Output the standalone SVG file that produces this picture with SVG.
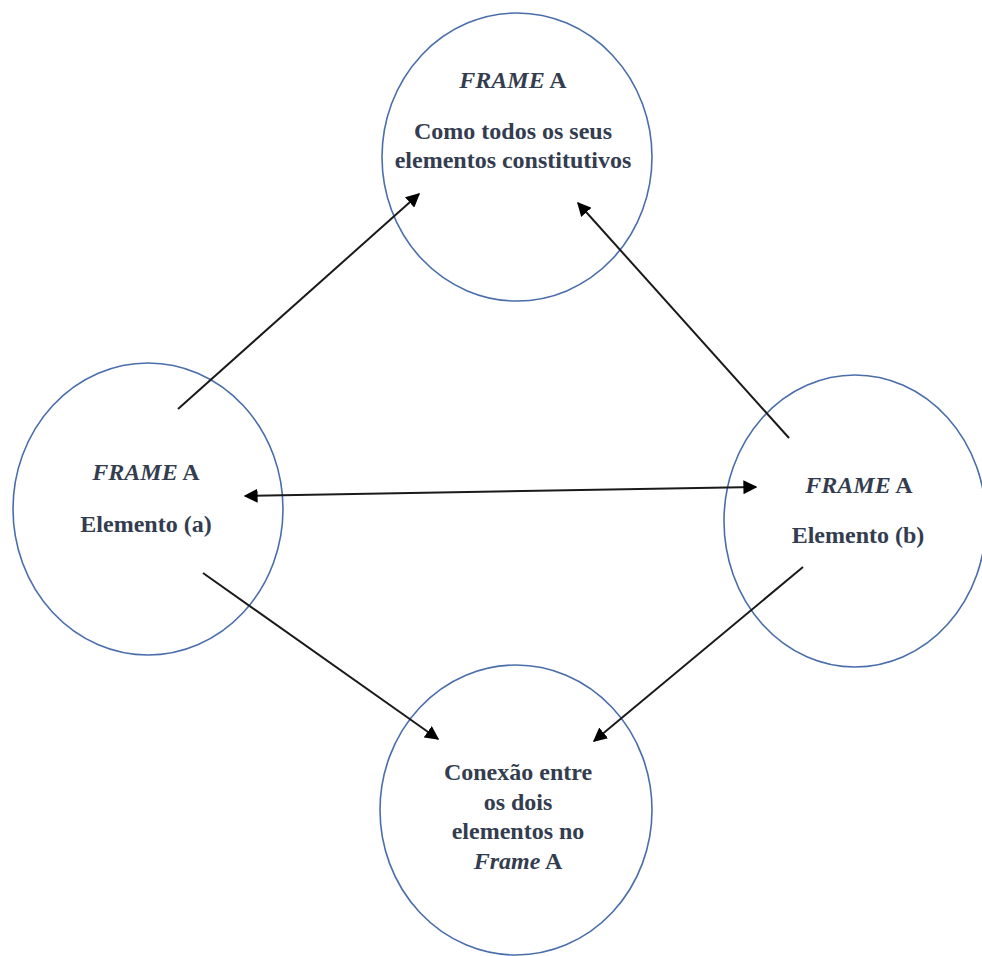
<svg xmlns="http://www.w3.org/2000/svg" width="982" height="956" viewBox="0 0 982 956">
  <style>
    .node { fill: #ffffff; stroke: #4a6eab; stroke-width: 1.6; }
    .lbl { font-family: "Liberation Serif", "Times New Roman", serif; font-size: 24px; font-weight: bold; fill: #333d4f; text-anchor: middle; }
    .it { font-style: italic; }
    .edge { stroke: #1a1a1a; stroke-width: 2; fill: none; }
  </style>
  <defs>
    <marker id="arrowEnd" viewBox="0 0 10 10" refX="9" refY="5" markerWidth="7" markerHeight="7" markerUnits="strokeWidth" orient="auto">
      <path d="M0,0 L10,5 L0,10 Z" fill="#000000"/>
    </marker>
    <marker id="arrowStart" viewBox="0 0 10 10" refX="1" refY="5" markerWidth="7" markerHeight="7" markerUnits="strokeWidth" orient="auto">
      <path d="M10,0 L0,5 L10,10 Z" fill="#000000"/>
    </marker>
  </defs>

  <rect width="982" height="956" fill="#ffffff"/>

  <!-- Nodes -->
  <g id="node-frame-top">
    <ellipse class="node" cx="517" cy="157" rx="135" ry="144"/>
    <text class="lbl" x="513" y="88"><tspan class="it">FRAME</tspan> A</text>
    <text class="lbl" x="513" y="139">Como todos os seus</text>
    <text class="lbl" x="513" y="168">elementos constitutivos</text>
  </g>

  <g id="node-elemento-a">
    <ellipse class="node" cx="148" cy="509" rx="135" ry="146"/>
    <text class="lbl" x="146" y="480"><tspan class="it">FRAME</tspan> A</text>
    <text class="lbl" x="146" y="532">Elemento (a)</text>
  </g>

  <g id="node-elemento-b">
    <ellipse class="node" cx="855" cy="521" rx="131" ry="146"/>
    <text class="lbl" x="859" y="493"><tspan class="it">FRAME</tspan> A</text>
    <text class="lbl" x="858" y="543">Elemento (b)</text>
  </g>

  <g id="node-conexao">
    <ellipse class="node" cx="516" cy="810" rx="136" ry="145"/>
    <text class="lbl" x="518" y="780">Conexão entre</text>
    <text class="lbl" x="518" y="810">os dois</text>
    <text class="lbl" x="518" y="839">elementos no</text>
    <text class="lbl" x="518" y="869"><tspan class="it">Frame</tspan> A</text>
  </g>

  <!-- Connectors -->
  <g id="connectors">
    <line class="edge" x1="178" y1="409" x2="419" y2="194" marker-end="url(#arrowEnd)"/>
    <line class="edge" x1="789" y1="438" x2="578" y2="203" marker-end="url(#arrowEnd)"/>
    <line class="edge" x1="245" y1="496" x2="756" y2="487" marker-start="url(#arrowStart)" marker-end="url(#arrowEnd)"/>
    <line class="edge" x1="203" y1="573" x2="438" y2="739" marker-end="url(#arrowEnd)"/>
    <line class="edge" x1="803" y1="567" x2="594" y2="741" marker-end="url(#arrowEnd)"/>
  </g>
</svg>
